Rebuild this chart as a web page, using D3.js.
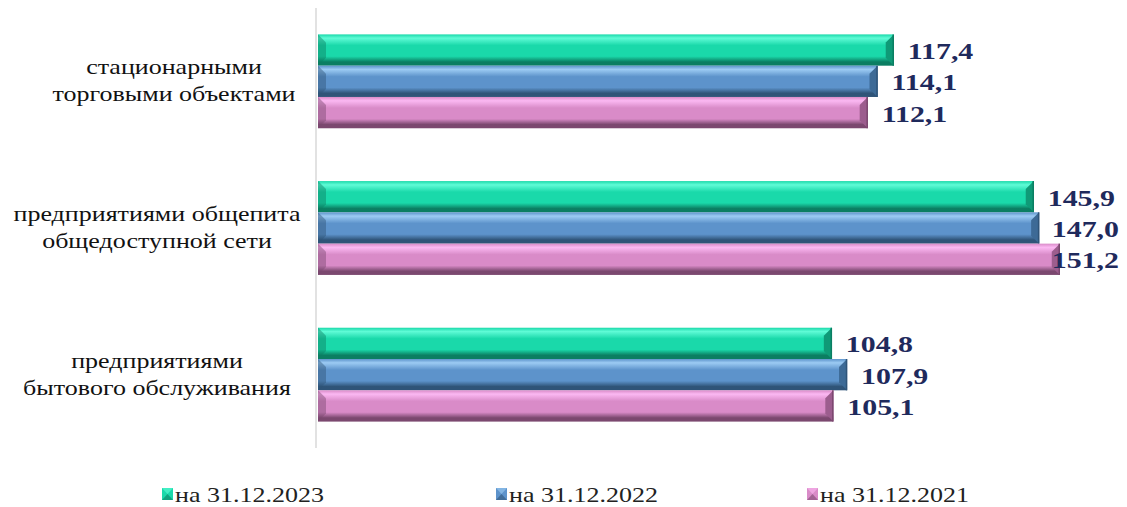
<!DOCTYPE html>
<html>
<head>
<meta charset="utf-8">
<script src="https://cdn.jsdelivr.net/npm/d3@7"></script>
<style>
  body { margin: 0; background: #fff; }
  svg { display: block; }
  text { font-family: "Liberation Serif", "Times New Roman", serif; }
</style>
</head>
<body>
<div id="chart"></div>
<script>
// data
const categories = [
    ["стационарными", "торговыми объектами"],
    ["предприятиями общепита", "общедоступной сети"],
    ["предприятиями", "бытового обслуживания"]
];
const seriesNames = ["на 31.12.2023", "на 31.12.2022", "на 31.12.2021"];
const values2023 = [117.4, 145.9, 104.8];
const values2022 = [114.1, 147.0, 107.9];
const values2021 = [112.1, 151.2, 105.1];

const W = 1127, H = 507;
const stretch = 1.3; // the original picture is widened horizontally
const fmt = v => v.toFixed(1).replace(".", ",");

// colours per series: top highlight, body, bottom shade, end cap
const palette = [
    {hi: "#5ffbd6", body: "#1ad9aa", lo: "#0b7e62", cap: "#0f9a77"},
    {hi: "#9ccbf3", body: "#5d93cb", lo: "#2f5478", cap: "#3d6a96"},
    {hi: "#fbb8f2", body: "#d98bc8", lo: "#7b486f", cap: "#9c5d8e"}
];

const series = [values2023, values2022, values2021];

const svg = d3.select("#chart").append("svg")
    .attr("width", W)
    .attr("height", H);

const x = d3.scaleLinear().domain([0, 160]).range([317, 1103]);
const y0 = d3.scaleBand().domain(d3.range(categories.length)).range([8, 448]).paddingInner(0.36).paddingOuter(0.18);
const y1 = d3.scaleBand().domain(d3.range(series.length)).range([0, y0.bandwidth()]);

// stretched text helper
function addText(parent, tx, ty, anchor) {
    return parent.append("text")
        .attr("transform", `translate(${tx},${ty}) scale(${stretch},1)`)
        .attr("text-anchor", anchor || "start");
}

// gradients
const defs = svg.append("defs");
palette.forEach((p, i) => {
    const g = defs.append("linearGradient")
        .attr("id", "grad" + i)
        .attr("x1", "0%").attr("y1", "0%")
        .attr("x2", "0%").attr("y2", "100%");
    g.append("stop").attr("offset", "0%").attr("stop-color", p.body);
    g.append("stop").attr("offset", "12%").attr("stop-color", p.hi);
    g.append("stop").attr("offset", "35%").attr("stop-color", p.body);
    g.append("stop").attr("offset", "70%").attr("stop-color", p.body);
    g.append("stop").attr("offset", "88%").attr("stop-color", p.lo);
    g.append("stop").attr("offset", "100%").attr("stop-color", p.lo);
});

// axis line
svg.append("line")
    .attr("x1", 316).attr("x2", 316)
    .attr("y1", 8).attr("y2", 448)
    .attr("stroke", "#d9d9d9")
    .attr("stroke-width", 1.5);

const bev = 8;

categories.forEach((cat, ci) => {
    const gy = y0(ci);
    series.forEach((vals, si) => {
        const p = palette[si];
        const by = gy + y1(si);
        const bh = y1.bandwidth();
        const bx0 = x(0) + 1;
        const bx1 = x(vals[ci]);
        const g = svg.append("g").attr("class", "bar");

        g.append("rect")
            .attr("x", bx0).attr("y", by)
            .attr("width", bx1 - bx0).attr("height", bh)
            .attr("fill", "url(#grad" + si + ")");

        // left bevel
        g.append("polygon")
            .attr("points", [[bx0, by], [bx0 + bev, by + bev], [bx0 + bev, by + bh - bev], [bx0, by + bh]].join(" "))
            .attr("fill", p.lo)
            .attr("opacity", 0.45);

        // right end cap
        g.append("polygon")
            .attr("points", [[bx1 - bev, by + bev], [bx1, by], [bx1, by + bh], [bx1 - bev, by + bh - bev]].join(" "))
            .attr("fill", p.cap);
        g.append("line")
            .attr("x1", bx1 - 0.5).attr("x2", bx1 - 0.5)
            .attr("y1", by).attr("y2", by + bh)
            .attr("stroke", p.lo).attr("stroke-width", 1.5);

        // value label, kept inside the picture like the original
        const lbl = addText(svg, bx1 + 14, by + bh / 2 + 9)
            .attr("font-weight", "bold")
            .attr("font-size", 23)
            .attr("fill", "#1f2a5c")
            .text(fmt(vals[ci]));
        const tw = lbl.node().getComputedTextLength() * stretch;
        const lx = Math.min(bx1 + 14, W - 8 - tw);
        lbl.attr("transform", `translate(${lx},${by + bh / 2 + 9}) scale(${stretch},1)`);
    });

    // category label
    const labelX = ci === 0 ? 174 : 157;
    const cy = gy + y0.bandwidth() / 2;
    cat.forEach((line, li) => {
        addText(svg, labelX, cy - 7 + li * 27, "middle")
            .attr("font-size", 20)
            .attr("fill", "#111")
            .text(line);
    });
});

// legend
const legendX = [162, 496, 807];
seriesNames.forEach((name, si) => {
    const p = palette[si];
    const lg = svg.append("g").attr("transform", `translate(${legendX[si]},488)`);
    lg.append("rect").attr("width", 11).attr("height", 12).attr("fill", p.body);
    lg.append("polygon").attr("points", "0,0 11,0 5.5,6").attr("fill", p.hi).attr("opacity", 0.6);
    lg.append("polygon").attr("points", "0,12 11,12 5.5,6").attr("fill", p.lo).attr("opacity", 0.6);
    addText(lg, 13, 14)
        .attr("font-size", 20)
        .attr("fill", "#222")
        .text(name);
});
</script>
</body>
</html>
